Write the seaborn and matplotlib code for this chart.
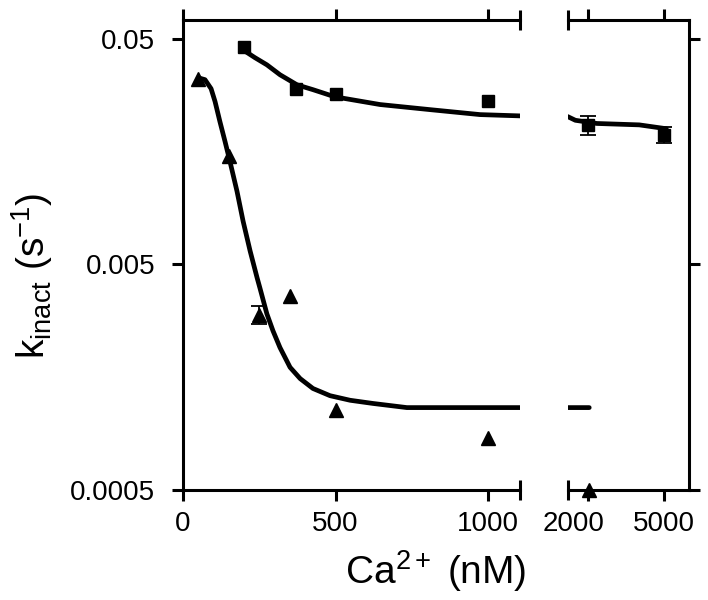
import numpy as np
import pandas as pd
import matplotlib
matplotlib.use("Agg")
import matplotlib.pyplot as plt
import matplotlib.transforms as mtransforms
import seaborn as sns
from matplotlib.ticker import FixedLocator, FixedFormatter

# measured points
sq_x = [200, 370, 500, 1000, 2000, 5000]
sq_y = [0.046, 0.0300, 0.0286, 0.0266, 0.0208, 0.0188]
sq_err = [0, 0, 0, 0, 0.0020, 0.0015]

tri_x = [50, 150, 250, 350, 500, 1000, 2050]
tri_y = [0.0333, 0.0151, 0.0030, 0.00363, 0.00113, 0.00085, 0.0005]
tri_err = [0, 0, 0.00028, 0, 0, 0, 0]

# fitted curves
fit_sq_x = [197, 236, 275, 318, 374, 426, 498, 646, 810, 974, 1105,
            1210, 1500, 2350, 4030, 5100]
fit_sq_y = [0.0447, 0.0413, 0.0384, 0.0347, 0.0313, 0.0298, 0.0277, 0.0256,
            0.0243, 0.0231, 0.0228,
            0.0226, 0.0218, 0.0211, 0.0208, 0.0200]
fit_tri_x = [55, 72, 92, 105, 121, 138, 154, 177, 197, 220, 243, 252, 275,
             295, 318, 351, 384, 426, 482, 548, 623, 734, 843, 1105,
             1210, 2050]
fit_tri_y = [0.0335, 0.0330, 0.0301, 0.0264, 0.0215, 0.0175, 0.0143, 0.01056,
             0.00778, 0.00574, 0.00436, 0.00394, 0.00302, 0.00254, 0.00214,
             0.00175, 0.00156, 0.00141, 0.00131, 0.00125, 0.00121, 0.00116,
             0.00116, 0.00116,
             0.00116, 0.00116]

left_ticks = [0, 500, 1000]
right_ticks = [2000, 5000]
y_ticks = [0.0005, 0.005, 0.05]
y_labels = ["0.0005", "0.005", "0.05"]

sns.set_theme(style="ticks")
plt.rcParams["font.family"] = ["Liberation Sans", "DejaVu Sans"]
plt.rcParams["mathtext.fontset"] = "custom"
plt.rcParams["mathtext.rm"] = "Liberation Sans"
plt.rcParams["mathtext.it"] = "Liberation Sans"
plt.rcParams["axes.edgecolor"] = "black"
plt.rcParams["xtick.color"] = "black"
plt.rcParams["ytick.color"] = "black"
plt.rcParams["text.color"] = "black"

sq = pd.DataFrame({"x": sq_x, "y": sq_y, "err": sq_err})
tri = pd.DataFrame({"x": tri_x, "y": tri_y, "err": tri_err})
fsq = pd.DataFrame({"x": fit_sq_x, "y": fit_sq_y})
ftri = pd.DataFrame({"x": fit_tri_x, "y": fit_tri_y})

fig = plt.figure(figsize=(7.08, 6.0), dpi=100)
axL = fig.add_axes([0.2585, 0.1833, 0.476, 0.7834])
axR = fig.add_axes([0.8023, 0.1833, 0.1709, 0.7834])

ylim = (0.0005, 0.0607)
lw_sp = 2.2

for ax, xlim in [(axL, (0, 1105)), (axR, (1210, 6000))]:
    sns.lineplot(data=fsq, x="x", y="y", ax=ax, color="black", lw=3.4, sort=True)
    sns.lineplot(data=ftri, x="x", y="y", ax=ax, color="black", lw=3.4, sort=True)
    for d, m, ms in [(sq, "s", 9), (tri, "^", 10.5)]:
        d = d[(d["x"] >= xlim[0]) & (d["x"] <= xlim[1])]
        e = d[d["err"] > 0]
        ax.errorbar(e["x"], e["y"], yerr=e["err"], fmt="none", ecolor="black",
                    elinewidth=1.3, capsize=6, capthick=1.3, zorder=4)
        ax.plot(d["x"], d["y"], ls="none", marker=m, ms=ms, color="black",
                zorder=5, clip_on=False)
    ax.set_yscale("log")
    ax.set_xlim(*xlim)
    ax.set_ylim(*ylim)
    ax.set_xlabel("")
    ax.set_ylabel("")
    ax.yaxis.set_minor_locator(FixedLocator([]))
    for s in ax.spines.values():
        s.set_linewidth(lw_sp)
    ax.tick_params(which="major", direction="out", length=8, width=lw_sp,
                   labelsize=20)
    ax.tick_params(axis="x", pad=7)
    ax.tick_params(axis="y", pad=12)
    ax.tick_params(which="minor", direction="inout", length=14, width=lw_sp)

# left panel
axL.spines["right"].set_visible(False)
axL.xaxis.set_major_locator(FixedLocator(left_ticks))
axL.xaxis.set_minor_locator(FixedLocator([1105]))
axL.tick_params(axis="x", which="both", top=True)
axL.yaxis.set_major_locator(FixedLocator(y_ticks))
axL.yaxis.set_major_formatter(FixedFormatter(y_labels))

# right panel
axR.spines["left"].set_visible(False)
axR.xaxis.set_major_locator(FixedLocator(right_ticks))
axR.xaxis.set_minor_locator(FixedLocator([1210]))
axR.tick_params(axis="x", which="both", top=True)
axR.yaxis.set_major_locator(FixedLocator(y_ticks))
axR.tick_params(axis="y", which="both", left=False, right=True, labelleft=False)

# the "2000" label sits a little left of its tick in the original
fig.canvas.draw()
shift = mtransforms.ScaledTranslation(-14 / 100, 0, fig.dpi_scale_trans)
lbl = axR.get_xticklabels()[0]
lbl.set_transform(lbl.get_transform() + shift)

fig.text(0.615, 0.048, r"Ca$^{2+}$ (nM)", fontsize=28, ha="center", va="center")
fig.text(0.045, 0.54, r"k$_{\rm inact}$ (s$^{-1}$)", fontsize=28, ha="center",
         va="center", rotation=90)

fig.savefig("out.png", dpi=100)
